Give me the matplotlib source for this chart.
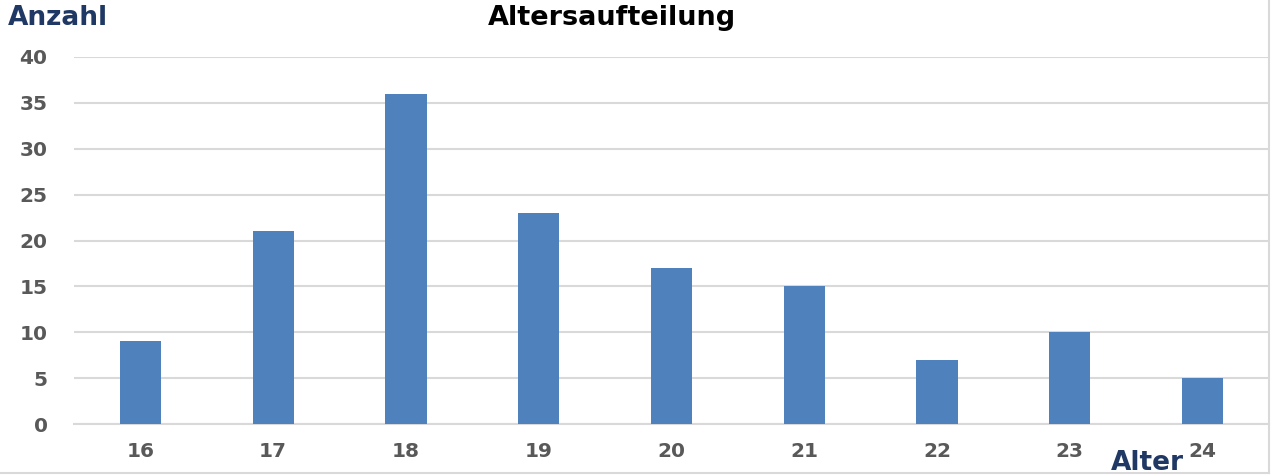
import matplotlib.pyplot as plt
from matplotlib.lines import Line2D

plt.rcParams['font.family'] = ['DejaVu Sans']

ages = ['16', '17', '18', '19', '20', '21', '22', '23', '24']
counts = [9, 21, 36, 23, 17, 15, 7, 10, 5]
yticks = [0, 5, 10, 15, 20, 25, 30, 35, 40]

fig = plt.figure(figsize=(12.72, 4.75), dpi=100)
ax = fig.add_axes([74 / 1272, 51 / 475, 1195 / 1272, 367 / 475])

x = range(len(ages))
ax.bar(x, counts, width=0.31, color='#4f81bd', zorder=3)

ax.set_xlim(-0.5, len(ages) - 0.5)
ax.set_ylim(0, 40)
ax.set_yticks(yticks)
ax.set_xticks(list(x))
ax.set_xticklabels(ages)

ax.grid(axis='y', color='#d9d9d9', linewidth=1.5, zorder=0)
for s in ['top', 'right', 'left']:
    ax.spines[s].set_visible(False)
ax.spines['bottom'].set_color('#d9d9d9')
ax.spines['bottom'].set_linewidth(1.5)
ax.tick_params(length=0, labelsize=14.5, labelcolor='#595959')
ax.tick_params(axis='y', pad=19)
ax.tick_params(axis='x', pad=13)
for lbl in ax.get_xticklabels() + ax.get_yticklabels():
    lbl.set_fontweight('bold')

fig.text(612 / 1272, 1 - 25 / 475, 'Altersaufteilung', ha='center', va='baseline',
         fontsize=19.5, fontweight='bold', color='black')
fig.text(8 / 1272, 1 - 25 / 475, 'Anzahl', ha='left', va='baseline',
         fontsize=19, fontweight='bold', color='#1f3864')
fig.text(1147 / 1272, 1 - 470 / 475, 'Alter', ha='center', va='baseline',
         fontsize=19, fontweight='bold', color='#1f3864')

# light frame of the chart area
fig.add_artist(Line2D([0, 1269 / 1272], [2 / 475, 2 / 475], color='#d9d9d9', lw=1.5))
fig.add_artist(Line2D([1269 / 1272, 1269 / 1272], [2 / 475, 1], color='#d9d9d9', lw=1.5))

fig.savefig('out.png', dpi=100)
